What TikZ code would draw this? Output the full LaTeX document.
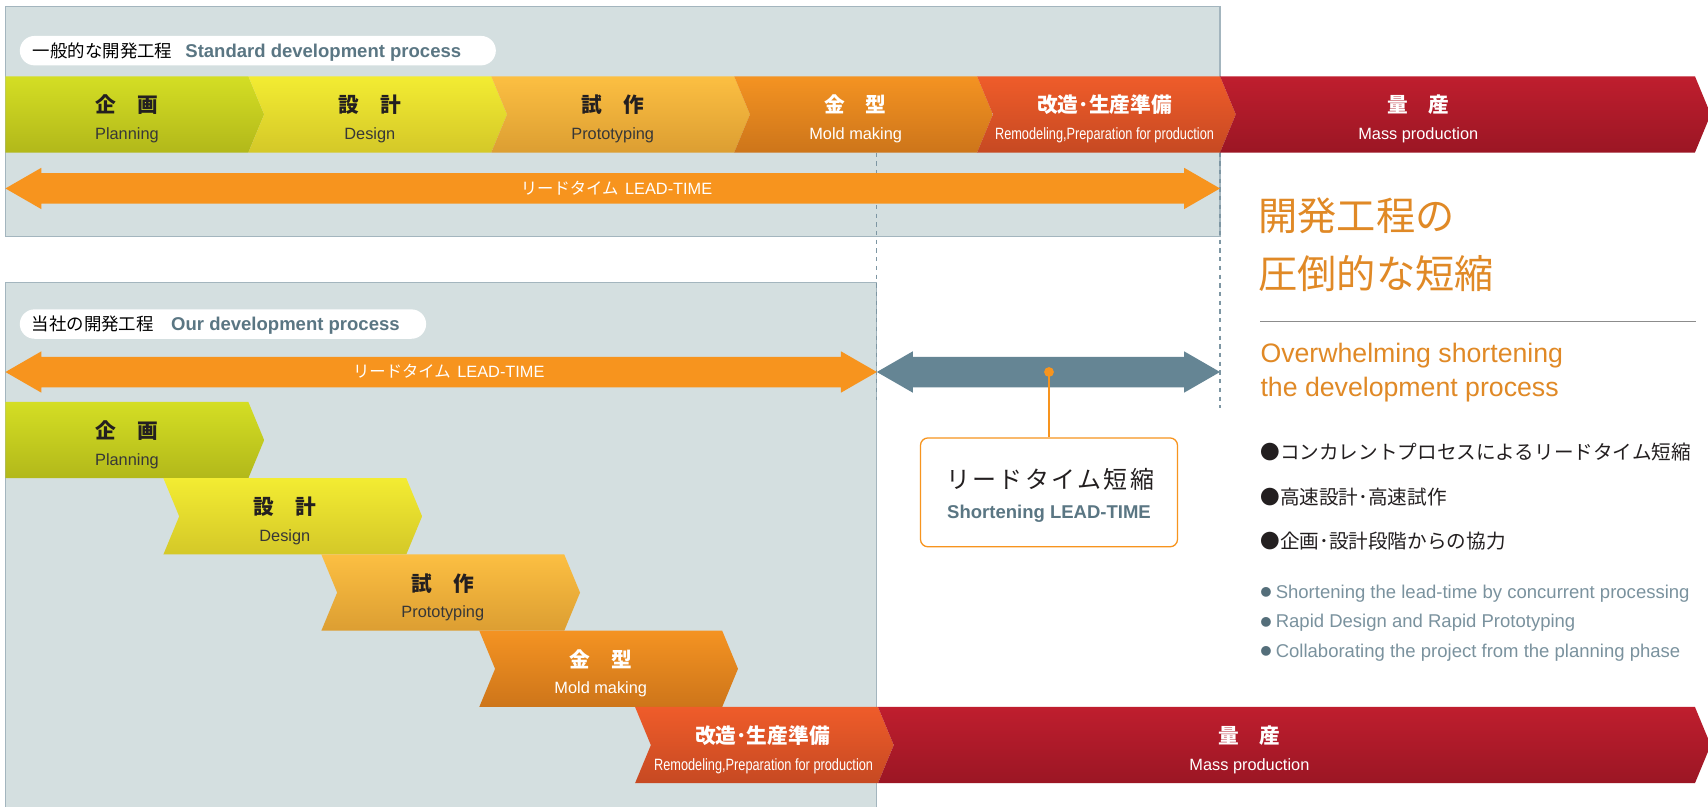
\documentclass[tikz,border=0pt]{standalone}
\usepackage{fontspec}
\setmainfont{Liberation Sans}
\newfontfamily\jp{Noto Sans CJK JP}
\newfontfamily\jpwide[LetterSpace=10]{Noto Sans CJK JP}
\newfontfamily\narrowfont[FakeStretch=0.78]{Liberation Sans}
\newcommand\myfs[1]{\fontsize{#1}{#1}\selectfont}
\definecolor{panelfill}{RGB}{212,223,224}
\definecolor{panelborder}{RGB}{163,181,190}
\definecolor{guidecol}{RGB}{125,150,163}
\definecolor{orangeA}{RGB}{247,148,30}
\definecolor{slate}{RGB}{101,133,148}
\definecolor{greyblue}{RGB}{90,118,131}
\definecolor{titleor}{RGB}{224,137,38}
\definecolor{lightgb}{RGB}{122,146,158}
\definecolor{dotcol}{RGB}{84,110,122}
\definecolor{darktxt}{RGB}{35,31,32}
\definecolor{darken}{RGB}{55,55,55}
\definecolor{rulecol}{RGB}{140,140,140}
\definecolor{plT}{RGB}{212,222,36}\definecolor{plB}{RGB}{178,184,26}
\definecolor{deT}{RGB}{243,236,50}\definecolor{deB}{RGB}{212,200,40}
\definecolor{prT}{RGB}{252,191,66}\definecolor{prB}{RGB}{220,158,50}
\definecolor{moT}{RGB}{244,147,34}\definecolor{moB}{RGB}{205,117,26}
\definecolor{reT}{RGB}{239,92,42}\definecolor{reB}{RGB}{198,73,34}
\definecolor{maT}{RGB}{191,30,46}\definecolor{maB}{RGB}{155,22,36}
% #1 left x, #2 right x, #3 top y, #4 notch depth, #5 top colour, #6 bottom colour
\newcommand\mychev[6]{\shade[top color=#5, bottom color=#6] (#1,#3) -- (#2,#3) -- ({#2+14.5},{#3+35}) -- (#2,{#3+70}) -- (#1,{#3+70}) -- ({#1+#4},{#3+35}) -- cycle;}
% #1 left tip, #2 right tip, #3 centre y, #4 colour
\newcommand\mydblarr[4]{\fill[#4] (#1,#3) -- ({#1+33},{#3-19}) -- ({#1+33},{#3-14}) -- ({#2-33},{#3-14}) -- ({#2-33},{#3-19}) -- (#2,#3) -- ({#2-33},{#3+19}) -- ({#2-33},{#3+14}) -- ({#1+33},{#3+14}) -- ({#1+33},{#3+19}) -- cycle;}
\newcommand\mydot{\raisebox{1.5pt}{\color{dotcol}\jp\myfs{10}●}}
\begin{document}
\begin{tikzpicture}[x=1pt,y=-1pt,
  jpb/.style={font={\jp\bfseries\myfs{19}}, inner sep=0pt, anchor=base},
  enl/.style={font={\myfs{15}}, inner sep=0pt, anchor=base},
  enn/.style={font={\narrowfont\myfs{15}}, inner sep=0pt, anchor=base},
  pill/.style={fill=white, rounded corners=13.5pt, inner sep=0pt, minimum height=27pt, anchor=west},
  guide/.style={draw=guidecol, line width=1pt, dash pattern=on 4pt off 4pt},
  ltext/.style={font={\myfs{15}}, text=white, inner sep=0pt, anchor=base},
  bl/.style={font={\jp\myfs{18}}, text=darktxt, inner sep=0pt, anchor=west},
  eb/.style={font={\myfs{17}}, text=lightgb, inner sep=0pt, anchor=base west}]
\useasboundingbox (0,0) rectangle (1568,740);
\fill[white] (0,0) rectangle (1568,740);

% panels
\filldraw[fill=panelfill, draw=panelborder, line width=1pt] (5,6) rectangle (1120,217);
\fill[panelfill] (5,259) rectangle (805,742);
\draw[panelborder, line width=1pt] (5,742) -- (5,259) -- (805,259) -- (805,742);

% guide lines
\coordinate (g1a) at (805,140); \coordinate (g1b) at (805,367);
\coordinate (g2a) at (1120,140); \coordinate (g2b) at (1120,375);
\draw[guide] (g1a) -- (g1b);
\draw[guide] (g2a) -- (g2b);

% pills
\node[pill, minimum width=437pt] (pillA) at (18,46.5) {};
\node[font={\jp\myfs{16}}, text=black, inner sep=0pt, anchor=west] (pillAjp) at (30,46.5) {一般的な開発工程};
\node[font={\bfseries\myfs{17}}, text=greyblue, inner sep=0pt, anchor=base west] (pillAen) at (170,52.5) {Standard development process};
\node[pill, minimum width=373pt] (pillB) at (18,297.5) {};
\node[font={\jp\myfs{16}}, text=black, inner sep=0pt, anchor=west] (pillBjp) at (29,297.5) {当社の開発工程};
\node[font={\bfseries\myfs{17}}, text=greyblue, inner sep=0pt, anchor=base west] (pillBen) at (157,303.5) {Our development process};

% top row chevrons
\mychev{5}{228}{70}{0}{plT}{plB}
\mychev{228}{451}{70}{14.5}{deT}{deB}
\mychev{451}{674}{70}{14.5}{prT}{prB}
\mychev{674}{897}{70}{14.5}{moT}{moB}
\mychev{897}{1120}{70}{14.5}{reT}{reB}
\mychev{1120}{1556}{70}{14.5}{maT}{maB}
\node[jpb, text=darktxt] (t1j) at (116.5,103.7) {企　画};
\node[enl, text=darken] (t1e) at (116.5,128) {Planning};
\node[jpb, text=darktxt] (t2j) at (339.5,103.7) {設　計};
\node[enl, text=darken] (t2e) at (339.5,128) {Design};
\node[jpb, text=darktxt] (t3j) at (562.5,103.7) {試　作};
\node[enl, text=darken] (t3e) at (562.5,128) {Prototyping};
\node[jpb, text=white] (t4j) at (785.5,103.7) {金　型};
\node[enl, text=white] (t4e) at (785.5,128) {Mold making};
\node[jpb, text=white] (t5j) at (1014,103.7) {改造･生産準備};
\node[enn, text=white] (t5e) at (1014,128) {Remodeling,Preparation for production};
\node[jpb, text=white] (t6j) at (1302,103.7) {量　産};
\node[enl, text=white] (t6e) at (1302,128) {Mass production};

% bottom staircase chevrons
\mychev{5}{228}{369}{0}{plT}{plB}
\mychev{150}{373}{439}{14.5}{deT}{deB}
\mychev{295}{518}{509}{14.5}{prT}{prB}
\mychev{440}{663}{579}{14.5}{moT}{moB}
\mychev{583}{806}{649}{14.5}{reT}{reB}
\mychev{806}{1556}{649}{14.5}{maT}{maB}
\node[jpb, text=darktxt] (b1j) at (116.5,402.7) {企　画};
\node[enl, text=darken] (b1e) at (116.5,427) {Planning};
\node[jpb, text=darktxt] (b2j) at (261.5,472.7) {設　計};
\node[enl, text=darken] (b2e) at (261.5,497) {Design};
\node[jpb, text=darktxt] (b3j) at (406.5,542.7) {試　作};
\node[enl, text=darken] (b3e) at (406.5,567) {Prototyping};
\node[jpb, text=white] (b4j) at (551.5,612.7) {金　型};
\node[enl, text=white] (b4e) at (551.5,637) {Mold making};
\node[jpb, text=white] (b5j) at (700,682.7) {改造･生産準備};
\node[enn, text=white] (b5e) at (701,707) {Remodeling,Preparation for production};
\node[jpb, text=white] (b6j) at (1147,682.7) {量　産};
\node[enl, text=white] (b6e) at (1147,707) {Mass production};

% lead-time arrows
\mydblarr{5}{1120}{173}{orangeA}
\node[ltext] (lt1) at (566,178.5) {{\jp リードタイム}\hspace{6pt}LEAD-TIME};
\mydblarr{5}{805}{341.5}{orangeA}
\node[ltext] (lt2) at (412,347) {{\jp リードタイム}\hspace{6pt}LEAD-TIME};
\mydblarr{805}{1120}{341.5}{slate}

% callout
\node[draw=orangeA, line width=1.2pt, fill=white, rounded corners=7pt, minimum width=236pt, minimum height=100pt, inner sep=0pt] (co) at (963,452) {};
\node[circle, fill=orangeA, minimum size=9pt, inner sep=0pt] (dot) at (963,341.5) {};
\draw[orangeA, line width=1.2pt] (dot.center) -- (co.north);
\node[font={\jpwide\myfs{22}}, text=darktxt, inner sep=0pt] (coj) at (964,440) {リードタイム短縮};
\node[font={\bfseries\myfs{17}}, text=greyblue, inner sep=0pt, anchor=base] (coe) at (963,476) {Shortening LEAD-TIME};

% right side
\node[font={\jp\myfs{36}}, text=titleor, inner sep=0pt, anchor=west] (h1) at (1155,198) {開発工程の};
\node[font={\jp\myfs{36}}, text=titleor, inner sep=0pt, anchor=west] (h2) at (1155,251) {圧倒的な短縮};
\coordinate (r1) at (1157,295); \coordinate (r2) at (1557,295);
\draw[rulecol, line width=1.5pt] (r1) -- (r2);
\node[font={\myfs{24.5}}, text=titleor, inner sep=0pt, anchor=base west] (e1) at (1157,333) {Overwhelming shortening};
\node[font={\myfs{24.5}}, text=titleor, inner sep=0pt, anchor=base west] (e2) at (1157,364) {the development process};
\node[bl] (jb1) at (1157,414.6) {●コンカレントプロセスによるリードタイム短縮};
\node[bl] (jb2) at (1157,456) {●高速設計･高速試作};
\node[bl] (jb3) at (1157,497) {●企画･設計段階からの協力};
\node[eb] (eb1) at (1157,549.5) {\mydot\hspace{4pt}Shortening the lead-time by concurrent processing};
\node[eb] (eb2) at (1157,576.5) {\mydot\hspace{4pt}Rapid Design and Rapid Prototyping};
\node[eb] (eb3) at (1157,603.5) {\mydot\hspace{4pt}Collaborating the project from the planning phase};
\end{tikzpicture}
\end{document}
